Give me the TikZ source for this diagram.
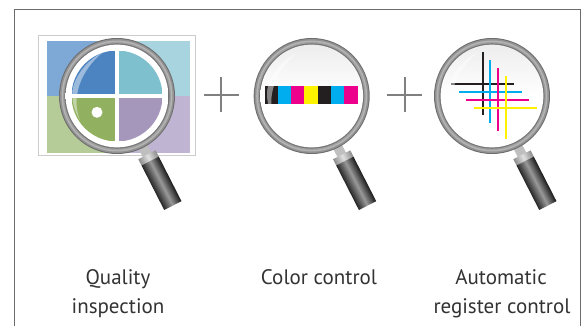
\documentclass[tikz,border=0pt]{standalone}
\usepackage{fontspec}
\setmainfont{PT Sans}
\definecolor{ringA}{HTML}{6E6E6E}
\definecolor{ringB}{HTML}{929292}
\definecolor{ringC}{HTML}{B4B4B4}
\definecolor{ringD}{HTML}{A0A0A0}
\definecolor{ringE}{HTML}{757575}
\definecolor{cyanink}{HTML}{00AEEF}
\definecolor{magink}{HTML}{EC008C}
\definecolor{yelink}{HTML}{FFF200}
\definecolor{blkink}{HTML}{231F20}
\definecolor{wedgeblue}{HTML}{4C83C1}
\definecolor{wedgeteal}{HTML}{7FC0CE}
\definecolor{wedgegreen}{HTML}{91B160}
\definecolor{wedgepurple}{HTML}{A596BC}
\definecolor{bgblue}{HTML}{7EA9D6}
\definecolor{bgteal}{HTML}{A8D4E0}
\definecolor{bggreen}{HTML}{B5CB98}
\definecolor{bgpurple}{HTML}{BFB5D2}
\definecolor{textcol}{HTML}{333333}
\tikzset{
  plusline/.style={draw=black!50,line width=1.7pt},
  label/.style={text=textcol,font=\fontsize{21}{29}\selectfont,align=center,inner sep=0pt},
}
\newcommand{\regcross}[4]{% colour, vertical x, horizontal y, horizontal start x
  \fill[#1] (#2,#3-31) rectangle (#2+2,#3+32);
  \fill[#1] (#4,#3) rectangle (#4+63,#3+2);
}
\newcommand{\lensbase}[3]{%
  \begin{scope}[transform canvas={shift={(#1,#2)},rotate=-63}]
    \shade[left color=black!25,right color=black!25,middle color=white!75!black,shading angle=0]
      (57,-4.8) rectangle (68,4.8);
    \shade[top color=black!45,bottom color=black!45,middle color=black!12,shading angle=0] (66,-9.7) rectangle (73,9.7);
    \shade[top color=black!90,bottom color=black!85,middle color=black!40,shading angle=0] (73,-9.7) rectangle (123,9.7);
  \end{scope}
  \fill[ringA] (#1,#2) circle[radius=58pt];
  \fill[ringB] (#1,#2) circle[radius=57pt];
  \fill[ringC] (#1,#2) circle[radius=55.5pt];
  \fill[ringD] (#1,#2) circle[radius=54pt];
  \fill[ringE] (#1,#2) circle[radius=52.6pt];
  \shade[top color=#3,bottom color=white,middle color=white] (#1,#2) circle[radius=51.4pt];
}
\newcommand{\lensshine}[2]{%
  \fill[white,opacity=.45,shift={(#1,#2)}] (-15,-43) .. controls (-26,-38) and (-41,-24) .. (-44.5,-6)
    .. controls (-45.5,6) and (-42,16) .. (-37,24)
    .. controls (-44,8) and (-42,-20) .. (-15,-43) -- cycle;
}
\begin{document}
\begin{tikzpicture}[x=1pt,y=-1pt]
\useasboundingbox[fill=white] (0,0) rectangle (584,326);
\draw[black!58,line width=1pt] (14.5,326) -- (14.5,10) -- (580,10) -- (580,326);
\draw[black!20,fill=white,line width=1.2pt] (38.5,35.7) rectangle (195.5,155.3);
\fill[bgblue] (47,41) rectangle (117,96);
\fill[bgteal] (117,41) rectangle (190,96);
\fill[bggreen] (47,96) rectangle (117,153);
\fill[bgpurple] (117,96) rectangle (190,153);
\lensbase{117}{96}{white}
\begin{scope}
  \clip (117,96) circle[radius=45.5pt];
  \fill[wedgeblue] (72,51) rectangle (117,96);
  \fill[wedgeteal] (117,51) rectangle (162,96);
  \fill[wedgegreen] (72,96) rectangle (117,141);
  \fill[wedgepurple] (117,96) rectangle (162,141);
\end{scope}
\fill[white] (114.6,50) rectangle (119.4,142);
\fill[white] (71,93.6) rectangle (163,98.4);
\fill[white] (97,112.3) circle[radius=5.5pt];
\lensshine{117}{96}
\lensbase{311.7}{96}{black!7}
\fill[blkink] (265,85.7) rectangle (278,104);
\fill[cyanink] (278,85.7) rectangle (291,104);
\fill[magink] (291,85.7) rectangle (304,104);
\fill[yelink] (304,85.7) rectangle (318,104);
\fill[blkink] (318,85.7) rectangle (331,104);
\fill[cyanink] (331,85.7) rectangle (344,104);
\fill[magink] (344,85.7) rectangle (358,104);
\lensshine{311.7}{96}
\lensbase{492}{96}{black!7}
\regcross{blkink}{482}{83}{451}
\regcross{cyanink}{489}{91}{459}
\regcross{magink}{497}{99}{466}
\regcross{yelink}{505}{107}{474}
\lensshine{492}{96}
\draw[plusline] (204,94.7) -- (239,94.7);
\draw[plusline] (221.3,77.3) -- (221.3,112);
\draw[plusline] (387,94.7) -- (421.7,94.7);
\draw[plusline] (404.7,77.3) -- (404.7,112);
\node[label,anchor=base] (lbA) at (118,284) {Quality};
\node[label,anchor=base] (lbB) at (118,313) {inspection};
\node[label,anchor=base] (lbC) at (319,284) {Color control};
\node[label,anchor=base] (lbD) at (501,284) {Automatic};
\node[label,anchor=base] (lbE) at (502,313) {register control};
\end{tikzpicture}
\end{document}
